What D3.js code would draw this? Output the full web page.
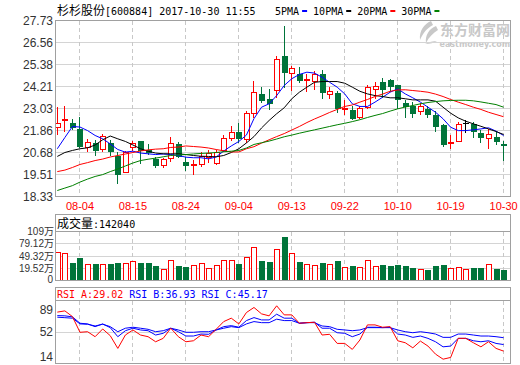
<!DOCTYPE html>
<html>
<head>
<meta charset="utf-8">
<script src="https://cdn.jsdelivr.net/npm/d3@7"></script>
<style>
  body { margin: 0; background: #fff; }
  svg { display: block; }
</style>
</head>
<body>
<svg id="chart" width="520" height="365"></svg>
<script>
// trading days shown, 2017-08-01 .. 2017-10-30
var dates = ["08-01","08-02","08-03","08-04","08-07","08-08","08-09","08-10","08-11","08-14",
  "08-15","08-16","08-17","08-18","08-21","08-22","08-23","08-24","08-25","08-28",
  "08-29","08-30","08-31","09-01","09-04","09-05","09-06","09-07","09-08","09-11",
  "09-12","09-13","09-14","09-15","09-18","09-19","09-20","09-21","09-22","09-25",
  "09-26","09-27","09-28","09-29","10-09","10-10","10-11","10-12","10-13","10-16",
  "10-17","10-18","10-19","10-20","10-23","10-24","10-25","10-26","10-27","10-30"];
var dateTicks = ["08-04","08-15","08-24","09-04","09-13","09-22","10-10","10-19","10-30"];

var open  = [22.05,22.42,22.24,21.91,20.96,21.18,20.86,21.21,20.47,19.65,
  20.96,21.32,20.84,20.34,20.02,20.36,21.14,20.18,20.02,20.08,
  20.43,20.11,20.82,21.46,21.78,21.41,22.78,23.78,23.56,24.03,
  25.86,24.94,24.88,24.57,24.49,24.85,23.81,23.88,23.00,22.96,
  22.57,23.10,24.08,24.47,24.56,24.26,23.33,23.15,22.89,23.01,
  22.66,22.17,21.20,21.27,22.23,22.21,21.71,21.44,21.53,21.14];
var high  = [23.10,23.19,22.46,22.60,21.41,21.36,21.68,21.36,20.70,20.78,
  21.28,21.32,21.11,20.43,20.40,21.50,21.23,20.43,20.29,20.68,
  20.84,20.82,21.59,22.07,22.24,22.89,24.52,24.20,24.08,25.81,
  27.46,25.29,25.27,24.85,25.01,25.10,24.20,23.99,23.46,23.14,
  23.14,24.26,24.47,24.67,24.62,24.30,23.49,23.37,23.31,23.19,
  22.92,22.21,21.64,22.30,22.44,22.30,21.89,21.95,21.82,21.32];
var low   = [21.68,21.85,21.94,20.96,20.78,20.56,20.75,20.57,19.04,19.65,
  20.84,20.13,20.61,19.89,19.92,20.25,20.43,19.72,19.54,19.95,
  20.16,20.08,20.75,21.37,21.25,21.23,22.56,23.37,23.01,23.63,
  24.17,24.03,24.43,23.95,24.08,23.60,23.60,22.83,22.75,22.48,
  22.51,23.07,23.60,23.63,23.99,23.07,22.60,22.56,22.75,22.56,
  21.81,21.05,20.93,21.27,21.76,21.53,21.23,20.93,21.14,20.29];
var close = [22.27,22.48,22.03,21.02,21.25,20.79,21.57,20.75,19.54,20.70,
  21.20,20.79,20.70,20.02,20.34,21.20,20.47,20.00,20.09,20.50,
  20.64,20.70,21.46,21.78,21.46,22.80,23.92,23.46,23.35,25.68,
  24.97,25.20,24.56,24.62,24.85,23.90,23.99,23.07,23.08,22.53,
  23.07,24.17,24.24,24.08,24.22,23.56,23.14,22.78,23.14,22.75,
  22.08,21.11,21.26,22.21,22.23,21.85,21.50,21.68,21.32,21.07];

var ma5  = [20.88,21.48,22.07,22.04,21.85,21.59,21.41,21.14,20.84,20.70,
  20.75,20.65,20.61,20.57,20.60,20.57,20.52,20.43,20.40,20.40,
  20.34,20.44,20.76,21.03,21.27,21.61,22.49,23.10,23.28,23.72,
  24.26,24.62,24.85,24.97,24.92,24.70,24.43,24.17,23.81,23.28,
  23.14,23.14,23.37,23.63,23.90,24.08,23.81,23.60,23.37,23.10,
  22.83,22.48,22.03,21.85,21.85,21.89,21.94,22.00,21.82,21.59];
var ma10 = [20.47,20.68,20.79,20.88,20.93,21.08,21.36,21.56,21.41,21.27,
  21.08,20.88,20.75,20.65,20.61,20.61,20.61,20.57,20.52,20.48,
  20.47,20.45,20.52,20.68,20.88,21.19,21.53,21.99,22.39,22.75,
  23.07,23.55,23.90,24.17,24.43,24.47,24.47,24.47,24.38,24.17,
  23.95,23.81,23.72,23.67,23.60,23.60,23.55,23.49,23.49,23.49,
  23.42,23.10,22.78,22.53,22.35,22.21,22.08,21.94,21.80,21.64];
var ma20 = [19.66,19.74,19.88,20.04,20.14,20.25,20.33,20.44,20.52,20.60,
  20.68,20.76,20.82,20.86,20.88,20.95,20.97,21.03,21.00,20.97,
  20.92,20.84,20.77,20.71,20.71,20.88,20.99,21.18,21.36,21.53,
  21.69,21.88,22.07,22.28,22.47,22.64,22.82,22.98,23.14,23.22,
  23.37,23.51,23.67,23.80,23.95,24.02,24.03,23.99,23.95,23.90,
  23.80,23.67,23.51,23.37,23.24,23.10,22.98,22.83,22.71,22.59];
var ma30 = [18.65,18.78,18.91,19.10,19.26,19.40,19.50,19.66,19.80,19.96,
  20.12,20.25,20.32,20.38,20.45,20.52,20.55,20.57,20.60,20.63,
  20.65,20.68,20.72,20.75,20.79,20.92,21.11,21.20,21.29,21.40,
  21.52,21.61,21.71,21.80,21.89,21.98,22.07,22.16,22.24,22.33,
  22.43,22.55,22.66,22.76,22.89,23.01,23.11,23.19,23.28,23.35,
  23.40,23.44,23.46,23.47,23.47,23.44,23.38,23.31,23.24,23.10];

// volume, in 万手
var volume = [58.5,56.0,32.2,45.5,29.0,29.8,29.0,29.8,32.2,32.2,
  36.4,32.2,32.2,24.9,17.5,39.6,24.9,22.4,27.3,31.5,
  20.0,26.6,39.6,39.6,29.8,46.2,71.5,37.1,34.7,66.6,
  96.0,56.0,34.7,29.0,27.3,32.2,29.0,37.1,22.4,24.9,
  22.4,38.9,24.1,27.3,24.9,27.3,24.9,21.0,17.5,15.1,
  24.1,27.3,20.0,22.4,17.5,21.0,21.0,29.0,17.5,14.204];

var rsiA = [76.0,77.5,70.6,51.7,52.4,46.4,55.7,47.6,32.3,48.4,
  54.5,48.4,46.4,40.3,44.4,56.6,46.4,40.3,41.5,48.4,
  46.4,55.3,64.6,68.7,61.8,75.5,81.6,73.9,71.5,83.6,
  72.7,72.7,62.6,63.3,63.8,48.4,49.3,38.3,38.3,31.1,
  42.4,60.6,60.6,57.8,58.5,41.5,39.1,33.0,41.1,35.1,
  25.4,19.3,21.4,44.4,44.4,39.1,34.2,40.3,32.3,29.02];
var rsiB = [71.8,71.5,70.3,62.6,61.8,58.5,61.8,57.3,46.4,53.6,
  56.6,54.5,53.6,48.4,50.5,56.6,52.4,47.2,47.2,49.6,
  49.3,54.5,58.5,59.7,57.8,65.8,69.4,66.6,66.6,73.5,
  68.7,68.7,62.6,63.3,63.8,56.6,56.6,51.2,50.5,46.4,
  49.6,57.8,57.8,57.3,57.8,49.6,48.4,45.6,47.2,44.4,
  40.3,34.2,35.1,44.4,44.4,41.5,40.3,41.5,38.3,36.93];
var rsiC = [69.9,69.3,68.7,61.8,61.4,59.3,61.4,58.5,52.4,56.6,
  57.8,56.6,55.3,52.4,53.6,56.6,54.5,51.7,51.7,52.4,
  52.4,54.5,56.6,58.5,57.3,61.8,64.6,63.3,63.3,67.5,
  65.8,65.8,62.6,63.3,63.3,59.3,58.5,55.3,54.5,53.6,
  54.5,57.3,57.3,57.3,57.3,54.5,52.4,51.2,52.4,51.2,
  49.6,45.6,45.6,49.6,49.6,48.4,47.2,47.2,46.4,45.17];

var priceTicks = [27.73, 26.56, 25.38, 24.21, 23.03, 21.86, 20.68, 19.51, 18.33];
var volTicks = [109, 79.12, 49.32, 19.52];
var rsiTicks = [89, 52, 14];

var maNames = ["5PMA", "10PMA", "20PMA", "30PMA"];
var maColors = ["#0000ff", "#000000", "#ff0000", "#008000"];

var RED = "#ff0000", GREEN = "#00743a", FRAME = "#a0a0a0", GRID = "#d4d4d4";
var labelFont = "12px 'Liberation Sans', Arial, sans-serif";
var volFont = "10px 'Liberation Sans', 'Noto Sans CJK SC', sans-serif";
var monoFont = "10px 'DejaVu Sans Mono', monospace";
var cjkFont = "12px 'Noto Sans CJK SC', sans-serif";

var svg = d3.select("#chart"),
    L = 55.5, R = 510.5;

var pTop = 20.5, pBot = 196.5,
    vTop = 214.5, vHead = 231.5, vBot = 280.5,
    rTop = 287.5, rHead = 300.5, rBot = 363.5;

var x = d3.scalePoint().domain(dates).range([57.3, 503.6]);
var yP = d3.scaleLinear().domain([18.33, 27.73]).range([pBot, pTop]);
var yV = d3.scaleLinear().domain([-10.2, 109]).range([vBot, vHead]);
var yR = d3.scaleLinear().domain([14.1, 90]).range([rBot, rHead]);

function col(d) { return Math.floor(x(d)); }
function crisp(v) { return Math.round(v - 0.5) + 0.5; }

// ---- title and legend
var title = svg.append("text").attr("x", 57).attr("y", 15).attr("fill", "#000");
title.append("tspan").style("font", cjkFont).text("杉杉股份");
title.append("tspan").style("font", monoFont).text("[600884] 2017-10-30 11:55");

var lx = 275;
maNames.forEach(function(n, i) {
  var t = svg.append("text").attr("x", lx).attr("y", 15).style("font", monoFont).attr("fill", "#000").text(n);
  lx += t.node().getComputedTextLength() + 3;
  svg.append("rect").attr("x", lx).attr("y", 10).attr("width", 5).attr("height", 2).attr("fill", maColors[i]);
  lx += 11;
});

// ---- watermark
var wm = svg.append("g").attr("fill", "#c8c8c8");
wm.append("path")
  .attr("d", "M431,21 C424,24 419,31 420,40 C423,33 427,28 433,25 Z M436,26 C429,29 425,35 426,43 C429,37 433,33 438,30 Z M425,44 C429,42 433,41 437,41 C434,43 430,44 425,44 Z");
wm.append("text").attr("x", 440).attr("y", 34.5).style("font", "bold 14px 'Noto Sans CJK SC', sans-serif").text("东方财富网");
wm.append("text").attr("x", 510).attr("y", 46.5).attr("text-anchor", "end")
  .style("font", "bold 8px 'DejaVu Sans', sans-serif").text("eastmoney.com");

// ---- grids
function vGrid(y0, y1) {
  svg.append("g").selectAll("line").data(dateTicks).enter().append("line")
    .attr("x1", function(d) { return col(d) + 0.5; })
    .attr("x2", function(d) { return col(d) + 0.5; })
    .attr("y1", y0).attr("y2", y1)
    .attr("stroke", "#c8c8c8").attr("stroke-dasharray", "4,3")
    .attr("shape-rendering", "crispEdges");
}

svg.append("g").selectAll("line").data(priceTicks).enter().append("line")
  .attr("x1", L).attr("x2", R)
  .attr("y1", function(d) { return crisp(yP(d)); })
  .attr("y2", function(d) { return crisp(yP(d)); })
  .attr("stroke", GRID).attr("shape-rendering", "crispEdges");
vGrid(pTop, pBot);

svg.append("g").selectAll("line").data(volTicks).enter().append("line")
  .attr("x1", L).attr("x2", R)
  .attr("y1", function(d) { return crisp(yV(d)); })
  .attr("y2", function(d) { return crisp(yV(d)); })
  .attr("stroke", GRID).attr("shape-rendering", "crispEdges");
vGrid(vHead, vBot);

svg.append("line").attr("x1", L).attr("x2", R)
  .attr("y1", crisp(yR(52))).attr("y2", crisp(yR(52)))
  .attr("stroke", GRID).attr("shape-rendering", "crispEdges");
vGrid(rHead, rBot);

// ---- axis labels
svg.append("g").selectAll("text").data(priceTicks).enter().append("text")
  .attr("x", 53).attr("y", function(d) { return yP(d); }).attr("dy", "0.35em")
  .attr("text-anchor", "end").style("font", labelFont).attr("fill", "#333")
  .text(function(d) { return d.toFixed(2); });

svg.append("g").selectAll("text").data(dateTicks).enter().append("text")
  .attr("x", function(d) { return x(d); }).attr("y", 206).attr("dy", "0.35em")
  .attr("text-anchor", "middle").style("font", "11px 'Liberation Sans', Arial, sans-serif").attr("fill", RED)
  .text(function(d) { return d; });

// volume labels sit only 12px apart, so they use a smaller face
svg.append("g").selectAll("text").data(volTicks).enter().append("text")
  .attr("x", 54).attr("y", function(d) { return yV(d); }).attr("dy", "0.35em")
  .attr("text-anchor", "end").style("font", volFont).attr("fill", "#333")
  .text(function(d) { return d + "万"; });
svg.append("text").attr("x", 53).attr("y", vBot - 1.5).attr("dy", "0.35em").attr("text-anchor", "end")
  .style("font", volFont).attr("fill", "#333").text("0");

svg.append("g").selectAll("text").data(rsiTicks).enter().append("text")
  .attr("x", 53)
  .attr("y", function(d) { return Math.max(rHead + 9, Math.min(rBot - 7, yR(d))); })
  .attr("dy", "0.35em").attr("text-anchor", "end").style("font", labelFont).attr("fill", "#333")
  .text(function(d) { return d; });

// ---- price panel
var gP = svg.append("g");

dates.forEach(function(d, i) {
  var o = open[i], c = close[i], cx = col(d);
  var color = c === o ? "#000" : (c > o ? RED : GREEN);
  gP.append("line")
    .attr("x1", cx + 0.5).attr("x2", cx + 0.5)
    .attr("y1", Math.round(yP(high[i]))).attr("y2", Math.round(yP(low[i])) + 1)
    .attr("stroke", color).attr("shape-rendering", "crispEdges");
  var t = Math.round(yP(Math.max(o, c))), b = Math.round(yP(Math.min(o, c)));
  if (c === o) {
    gP.append("line").attr("x1", cx - 2).attr("x2", cx + 4).attr("y1", t + 0.5).attr("y2", t + 0.5)
      .attr("stroke", color).attr("shape-rendering", "crispEdges");
  } else if (c > o) {
    gP.append("rect").attr("x", cx - 1.5).attr("y", t + 0.5)
      .attr("width", 5).attr("height", Math.max(b - t, 1))
      .attr("fill", b - t > 2 ? "#fff" : RED).attr("stroke", RED).attr("shape-rendering", "crispEdges");
  } else {
    gP.append("rect").attr("x", cx - 2).attr("y", t)
      .attr("width", 6).attr("height", Math.max(b - t, 1) + 1)
      .attr("fill", GREEN).attr("shape-rendering", "crispEdges");
  }
});

var maLine = d3.line()
  .x(function(v, i) { return x(dates[i]); })
  .y(function(v) { return yP(v); });

[ma5, ma10, ma20, ma30].forEach(function(s, k) {
  gP.append("path").datum(s).attr("d", maLine)
    .attr("fill", "none").attr("stroke", maColors[k]).attr("stroke-width", 1);
});

// ---- volume panel
svg.append("text").attr("x", 57).attr("y", 227.5).attr("fill", "#000")
  .call(function(t) {
    t.append("tspan").style("font", cjkFont).text("成交量");
    t.append("tspan").style("font", monoFont).text(":" + Math.round(volume[volume.length - 1] * 10000));
  });

dates.forEach(function(d, i) {
  var cx = col(d), t = Math.round(yV(volume[i]));
  if (close[i] >= open[i]) {
    svg.append("rect").attr("x", cx - 1.5).attr("y", t + 0.5)
      .attr("width", 5).attr("height", vBot - 0.5 - t - 0.5)
      .attr("fill", "#fff").attr("stroke", RED).attr("shape-rendering", "crispEdges");
  } else {
    svg.append("rect").attr("x", cx - 2).attr("y", t)
      .attr("width", 6).attr("height", vBot - 0.5 - t)
      .attr("fill", GREEN).attr("shape-rendering", "crispEdges");
  }
});

// ---- RSI panel
var rsiLine = d3.line()
  .x(function(v, i) { return x(dates[i]); })
  .y(function(v) { return yR(v); });

[[rsiC, "#0000ff"], [rsiB, "#0000ff"], [rsiA, RED]].forEach(function(p) {
  svg.append("path").datum(p[0]).attr("d", rsiLine)
    .attr("fill", "none").attr("stroke", p[1]).attr("stroke-width", 1);
});

var rt = svg.append("text").attr("x", 57).attr("y", 297.5).style("font", monoFont);
rt.append("tspan").attr("fill", RED).text("RSI_A:" + rsiA[rsiA.length - 1].toFixed(2));
rt.append("tspan").attr("fill", "#0000ff").text(" RSI_B:" + rsiB[rsiB.length - 1].toFixed(2));
rt.append("tspan").attr("fill", "#0000ff").text(" RSI_C:" + rsiC[rsiC.length - 1].toFixed(2));

// ---- frames
function frame(y0, y1, yh) {
  svg.append("rect").attr("x", L).attr("y", y0).attr("width", R - L).attr("height", y1 - y0)
    .attr("fill", "none").attr("stroke", FRAME).attr("shape-rendering", "crispEdges");
  if (yh) svg.append("line").attr("x1", L).attr("x2", R).attr("y1", yh).attr("y2", yh)
    .attr("stroke", FRAME).attr("shape-rendering", "crispEdges");
}
frame(pTop, pBot);
frame(vTop, vBot, vHead);
frame(rTop, rBot, rHead);
</script>
</body>
</html>
